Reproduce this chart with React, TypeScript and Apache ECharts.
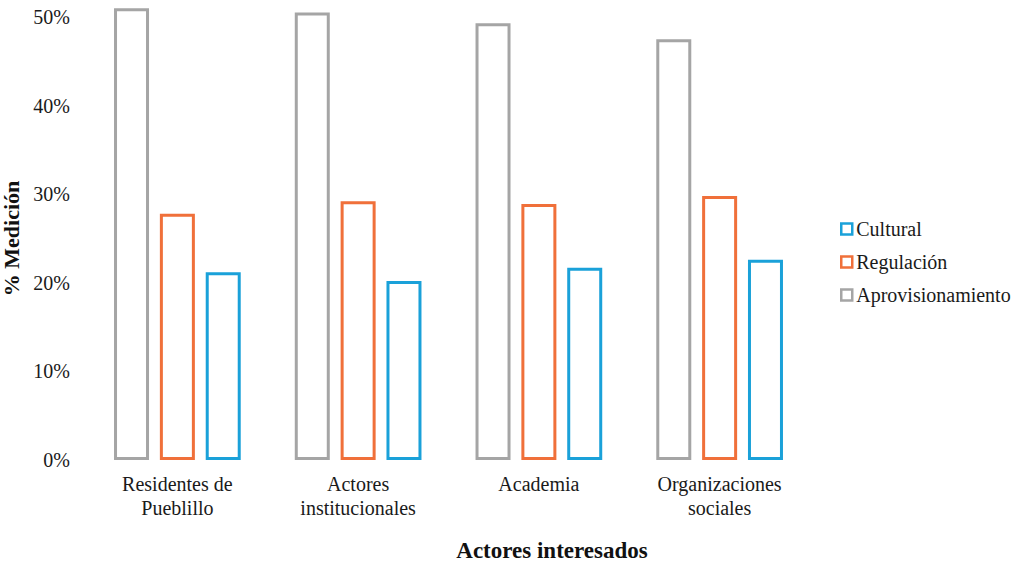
import React, { useEffect, useRef } from "react";
import * as echarts from "echarts";

const categories = [
  "Residentes de\nPueblillo",
  "Actores\ninstitucionales",
  "Academia",
  "Organizaciones\nsociales",
];
const aprovisionamiento = [0.51, 0.505, 0.493, 0.475];
const regulacion = [0.278, 0.292, 0.289, 0.298];
const cultural = [0.212, 0.202, 0.217, 0.226];
const yTicks = [0, 0.1, 0.2, 0.3, 0.4, 0.5];

const FONT = "Liberation Serif";
const GRAY = "#A5A5A5";
const ORANGE = "#F0703A";
const BLUE = "#1AA1D9";

function barSeries(name: string, data: number[], color: string) {
  return {
    name,
    type: "bar",
    data,
    clip: false,
    barWidth: 35,
    barGap: "31%",
    itemStyle: { color: "#ffffff", borderColor: color, borderWidth: 3 },
  };
}

export default function App() {
  const ref = useRef<HTMLDivElement>(null);
  useEffect(() => {
    if (!ref.current) return;
    const chart = echarts.init(ref.current, undefined, { renderer: "svg" });
    chart.setOption({
      animation: false,
      backgroundColor: "#ffffff",
      textStyle: { fontFamily: FONT, color: "#1a1a1a" },
      grid: { left: 87, right: 206, top: 17, bottom: 101, outerBoundsMode: "none", containLabel: false },
      legend: {
        orient: "vertical",
        left: 835,
        top: 214,
        itemWidth: 11,
        itemHeight: 11,
        itemGap: 13,
        icon: "rect",
        itemStyle: { borderWidth: 2.5 },
        data: ["Cultural", "Regulación", "Aprovisionamiento"],
        textStyle: { fontFamily: FONT, fontSize: 20, color: "#1a1a1a", padding: [0, 0, 0, -1] },
      },
      xAxis: {
        type: "category",
        data: categories,
        axisLine: { show: false },
        axisTick: { show: false },
        axisLabel: {
          fontFamily: FONT,
          fontSize: 20,
          color: "#1a1a1a",
          lineHeight: 24,
          margin: 12,
          interval: 0,
        },
      },
      yAxis: {
        type: "value",
        min: yTicks[0],
        max: yTicks[yTicks.length - 1],
        interval: 0.1,
        splitLine: { show: false },
        axisLine: { show: false },
        axisTick: { show: false },
        axisLabel: {
          fontFamily: FONT,
          fontSize: 20,
          color: "#1a1a1a",
          margin: 17,
          formatter: (v: number) => `${Math.round(v * 100)}%`,
        },
        name: "% Medición",
        nameLocation: "middle",
        nameGap: 58,
        nameTextStyle: { fontFamily: FONT, fontSize: 22, fontWeight: "bold", color: "#111" },
      },
      graphic: [
        {
          type: "text",
          x: 552,
          y: 550,
          style: {
            text: "Actores interesados",
            font: `bold 23px "${FONT}"`,
            fill: "#111",
            align: "center",
            verticalAlign: "middle",
          },
        },
      ],
      series: [
        barSeries("Aprovisionamiento", aprovisionamiento, GRAY),
        barSeries("Regulación", regulacion, ORANGE),
        barSeries("Cultural", cultural, BLUE),
      ],
    });
    return () => chart.dispose();
  }, []);
  return (
    <div
      ref={ref}
      style={{ position: "fixed", left: 0, top: 0, width: 1016, height: 561 }}
    />
  );
}
